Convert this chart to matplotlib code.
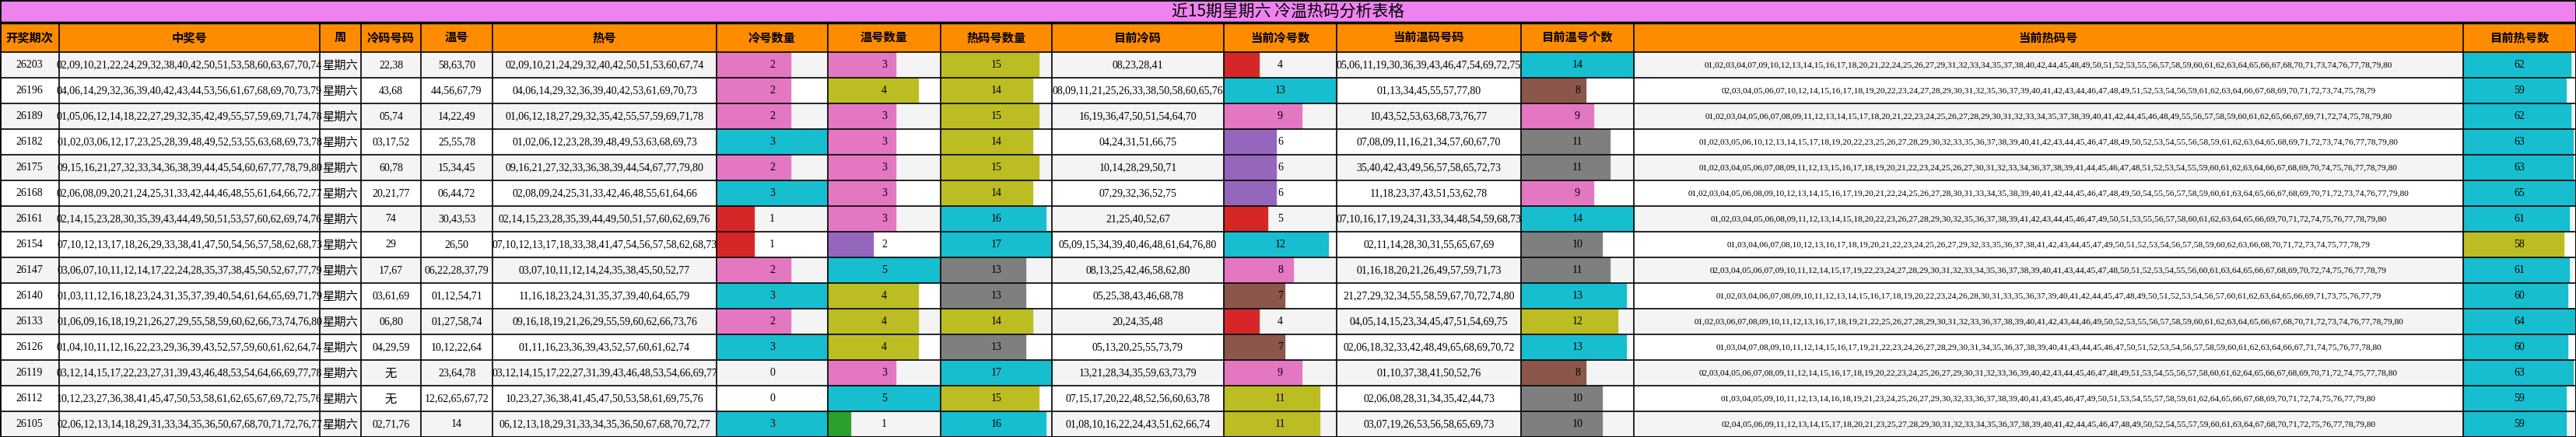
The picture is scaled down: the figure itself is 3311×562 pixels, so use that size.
import matplotlib

matplotlib.use("Agg")
import matplotlib.pyplot as plt
from matplotlib.patches import Rectangle

TITLE = "近15期星期六 冷温热码分析表格"

HEADERS = [
    "开奖期次", "中奖号", "周", "冷码号码", "温号", "热号", "冷号数量", "温号数量",
    "热码号数量", "目前冷码", "当前冷号数", "当前温码号码", "目前温号个数", "当前热码号", "目前热号数",
]

ISSUES = ["26203", "26196", "26189", "26182", "26175", "26168", "26161", "26154",
          "26147", "26140", "26133", "26126", "26119", "26112", "26105"]

WIN_NUMS = [
    "02,09,10,21,22,24,29,32,38,40,42,50,51,53,58,60,63,67,70,74",
    "04,06,14,29,32,36,39,40,42,43,44,53,56,61,67,68,69,70,73,79",
    "01,05,06,12,14,18,22,27,29,32,35,42,49,55,57,59,69,71,74,78",
    "01,02,03,06,12,17,23,25,28,39,48,49,52,53,55,63,68,69,73,78",
    "09,15,16,21,27,32,33,34,36,38,39,44,45,54,60,67,77,78,79,80",
    "02,06,08,09,20,21,24,25,31,33,42,44,46,48,55,61,64,66,72,77",
    "02,14,15,23,28,30,35,39,43,44,49,50,51,53,57,60,62,69,74,76",
    "07,10,12,13,17,18,26,29,33,38,41,47,50,54,56,57,58,62,68,73",
    "03,06,07,10,11,12,14,17,22,24,28,35,37,38,45,50,52,67,77,79",
    "01,03,11,12,16,18,23,24,31,35,37,39,40,54,61,64,65,69,71,79",
    "01,06,09,16,18,19,21,26,27,29,55,58,59,60,62,66,73,74,76,80",
    "01,04,10,11,12,16,22,23,29,36,39,43,52,57,59,60,61,62,64,74",
    "03,12,14,15,17,22,23,27,31,39,43,46,48,53,54,64,66,69,77,78",
    "10,12,23,27,36,38,41,45,47,50,53,58,61,62,65,67,69,72,75,76",
    "02,06,12,13,14,18,29,31,33,34,35,36,50,67,68,70,71,72,76,77",
]

WEEKDAY = ["星期六"] * 15

COLD_NUMS = ["22,38", "43,68", "05,74", "03,17,52", "60,78", "20,21,77", "74", "29",
             "17,67", "03,61,69", "06,80", "04,29,59", "无", "无", "02,71,76"]

WARM_NUMS = ["58,63,70", "44,56,67,79", "14,22,49", "25,55,78", "15,34,45", "06,44,72",
             "30,43,53", "26,50", "06,22,28,37,79", "01,12,54,71", "01,27,58,74",
             "10,12,22,64", "23,64,78", "12,62,65,67,72", "14"]

HOT_NUMS = [
    "02,09,10,21,24,29,32,40,42,50,51,53,60,67,74",
    "04,06,14,29,32,36,39,40,42,53,61,69,70,73",
    "01,06,12,18,27,29,32,35,42,55,57,59,69,71,78",
    "01,02,06,12,23,28,39,48,49,53,63,68,69,73",
    "09,16,21,27,32,33,36,38,39,44,54,67,77,79,80",
    "02,08,09,24,25,31,33,42,46,48,55,61,64,66",
    "02,14,15,23,28,35,39,44,49,50,51,57,60,62,69,76",
    "07,10,12,13,17,18,33,38,41,47,54,56,57,58,62,68,73",
    "03,07,10,11,12,14,24,35,38,45,50,52,77",
    "11,16,18,23,24,31,35,37,39,40,64,65,79",
    "09,16,18,19,21,26,29,55,59,60,62,66,73,76",
    "01,11,16,23,36,39,43,52,57,60,61,62,74",
    "03,12,14,15,17,22,27,31,39,43,46,48,53,54,66,69,77",
    "10,23,27,36,38,41,45,47,50,53,58,61,69,75,76",
    "06,12,13,18,29,31,33,34,35,36,50,67,68,70,72,77",
]

COLD_COUNT = [2, 2, 2, 3, 2, 3, 1, 1, 2, 3, 2, 3, 0, 0, 3]
WARM_COUNT = [3, 4, 3, 3, 3, 3, 3, 2, 5, 4, 4, 4, 3, 5, 1]
HOT_COUNT = [15, 14, 15, 14, 15, 14, 16, 17, 13, 13, 14, 13, 17, 15, 16]

CUR_COLD = [
    "08,23,28,41", "08,09,11,21,25,26,33,38,50,58,60,65,76", "16,19,36,47,50,51,54,64,70",
    "04,24,31,51,66,75", "10,14,28,29,50,71", "07,29,32,36,52,75", "21,25,40,52,67",
    "05,09,15,34,39,40,46,48,61,64,76,80", "08,13,25,42,46,58,62,80", "05,25,38,43,46,68,78",
    "20,24,35,48", "05,13,20,25,55,73,79", "13,21,28,34,35,59,63,73,79",
    "07,15,17,20,22,48,52,56,60,63,78", "01,08,10,16,22,24,43,51,62,66,74",
]
CUR_COLD_COUNT = [4, 13, 9, 6, 6, 6, 5, 12, 8, 7, 4, 7, 9, 11, 11]

CUR_WARM = [
    "05,06,11,19,30,36,39,43,46,47,54,69,72,75", "01,13,34,45,55,57,77,80",
    "10,43,52,53,63,68,73,76,77", "07,08,09,11,16,21,34,57,60,67,70",
    "35,40,42,43,49,56,57,58,65,72,73", "11,18,23,37,43,51,53,62,78",
    "07,10,16,17,19,24,31,33,34,48,54,59,68,73", "02,11,14,28,30,31,55,65,67,69",
    "01,16,18,20,21,26,49,57,59,71,73", "21,27,29,32,34,55,58,59,67,70,72,74,80",
    "04,05,14,15,23,34,45,47,51,54,69,75", "02,06,18,32,33,42,48,49,65,68,69,70,72",
    "01,10,37,38,41,50,52,76", "02,06,08,28,31,34,35,42,44,73", "03,07,19,26,53,56,58,65,69,73",
]
CUR_WARM_COUNT = [14, 8, 9, 11, 11, 9, 14, 10, 11, 13, 12, 13, 8, 10, 10]

CUR_HOT = [
    "01,02,03,04,07,09,10,12,13,14,15,16,17,18,20,21,22,24,25,26,27,29,31,32,33,34,35,37,38,40,42,44,45,48,49,50,51,52,53,55,56,57,58,59,60,61,62,63,64,65,66,67,68,70,71,73,74,76,77,78,79,80",
    "02,03,04,05,06,07,10,12,14,15,16,17,18,19,20,22,23,24,27,28,29,30,31,32,35,36,37,39,40,41,42,43,44,46,47,48,49,51,52,53,54,56,59,61,62,63,64,66,67,68,69,70,71,72,73,74,75,78,79",
    "01,02,03,04,05,06,07,08,09,11,12,13,14,15,17,18,20,21,22,23,24,25,26,27,28,29,30,31,32,33,34,35,37,38,39,40,41,42,44,45,46,48,49,55,56,57,58,59,60,61,62,65,66,67,69,71,72,74,75,78,79,80",
    "01,02,03,05,06,10,12,13,14,15,17,18,19,20,22,23,25,26,27,28,29,30,32,33,35,36,37,38,39,40,41,42,43,44,45,46,47,48,49,50,52,53,54,55,56,58,59,61,62,63,64,65,68,69,71,72,73,74,76,77,78,79,80",
    "01,02,03,04,05,06,07,08,09,11,12,13,15,16,17,18,19,20,21,22,23,24,25,26,27,30,31,32,33,34,36,37,38,39,41,44,45,46,47,48,51,52,53,54,55,59,60,61,62,63,64,66,67,68,69,70,74,75,76,77,78,79,80",
    "01,02,03,04,05,06,08,09,10,12,13,14,15,16,17,19,20,21,22,24,25,26,27,28,30,31,33,34,35,38,39,40,41,42,44,45,46,47,48,49,50,54,55,56,57,58,59,60,61,63,64,65,66,67,68,69,70,71,72,73,74,76,77,79,80",
    "01,02,03,04,05,06,08,09,11,12,13,14,15,18,20,22,23,26,27,28,29,30,32,35,36,37,38,39,41,42,43,44,45,46,47,49,50,51,53,55,56,57,58,60,61,62,63,64,65,66,69,70,71,72,74,75,76,77,78,79,80",
    "01,03,04,06,07,08,10,12,13,16,17,18,19,20,21,22,23,24,25,26,27,29,32,33,35,36,37,38,41,42,43,44,45,47,49,50,51,52,53,54,56,57,58,59,60,62,63,66,68,70,71,72,73,74,75,77,78,79",
    "02,03,04,05,06,07,09,10,11,12,14,15,17,19,22,23,24,27,28,29,30,31,32,33,34,35,36,37,38,39,40,41,43,44,45,47,48,50,51,52,53,54,55,56,60,61,63,64,65,66,67,68,69,70,72,74,75,76,77,78,79",
    "01,02,03,04,06,07,08,09,10,11,12,13,14,15,16,17,18,19,20,22,23,24,26,28,30,31,33,35,36,37,39,40,41,42,44,45,47,48,49,50,51,52,53,54,56,57,60,61,62,63,64,65,66,69,71,73,75,76,77,79",
    "01,02,03,06,07,08,09,10,11,12,13,16,17,18,19,21,22,25,26,27,28,29,30,31,32,33,36,37,38,39,40,41,42,43,44,46,49,50,52,53,55,56,57,58,59,60,61,62,63,64,65,66,67,68,70,71,72,73,74,76,77,78,79,80",
    "01,03,04,07,08,09,10,11,12,14,15,16,17,19,21,22,23,24,26,27,28,29,30,31,34,35,36,37,38,39,40,41,43,44,45,46,47,50,51,52,53,54,56,57,58,59,60,61,62,63,64,66,67,71,74,75,76,77,78,80",
    "02,03,04,05,06,07,08,09,11,12,14,15,16,17,18,19,20,22,23,24,25,26,27,29,30,31,32,33,36,39,40,42,43,44,45,46,47,48,49,51,53,54,55,56,57,58,60,61,62,64,65,66,67,68,69,70,71,72,74,75,77,78,80",
    "01,03,04,05,09,10,11,12,13,14,16,18,19,21,23,24,25,26,27,29,30,32,33,36,37,38,39,40,41,43,45,46,47,49,50,51,53,54,55,57,58,59,61,62,64,65,66,67,68,69,70,71,72,74,75,76,77,79,80",
    "02,04,05,06,09,11,12,13,14,15,17,18,20,21,23,25,27,28,29,30,31,32,33,34,35,36,37,38,39,40,41,42,44,45,46,47,48,49,50,52,54,55,57,59,60,61,63,64,67,68,70,71,72,75,76,77,78,79,80",
]
CUR_HOT_COUNT = [62, 59, 62, 63, 63, 65, 61, 58, 61, 60, 64, 60, 63, 59, 59]

# layout (pixels)
W, H = 3311, 562
COL_EDGES = [0, 76, 411, 464, 541, 633, 921, 1064, 1209, 1352, 1573, 1718, 1955, 2100, 3166, 3311]
TITLE_H = 29
HEAD_H = 38
ROW_H = (H - TITLE_H - HEAD_H) / len(ISSUES)

FONT_NUM = ["Liberation Serif", "Noto Sans CJK SC"]
FONT_CJK = ["Noto Sans CJK SC", "DejaVu Sans"]

plt.rcParams["font.family"] = FONT_NUM

fig = plt.figure(figsize=(W / 100, H / 100), dpi=100)
ax = fig.add_axes([0, 0, 1, 1])
ax.set_xlim(0, W)
ax.set_ylim(H, 0)
ax.axis("off")
cmap = plt.get_cmap("tab10")

# title
ax.add_patch(Rectangle((0, 0), W, TITLE_H, color="#EE82EE"))
ax.text(W / 2, TITLE_H / 2 + 1, TITLE, ha="center", va="center", fontsize=15,
        family=["Liberation Sans Narrow", "Noto Sans CJK SC"])

# header
ax.add_patch(Rectangle((0, TITLE_H), W, HEAD_H, color="#FF8C00"))
for i, name in enumerate(HEADERS):
    cx = (COL_EDGES[i] + COL_EDGES[i + 1]) / 2
    ax.text(cx, TITLE_H + HEAD_H / 2, name, ha="center", va="center",
            fontsize=11, weight="bold", family=FONT_CJK)

text_cols = [ISSUES, WIN_NUMS, WEEKDAY, COLD_NUMS, WARM_NUMS, HOT_NUMS, None, None, None,
             CUR_COLD, None, CUR_WARM, None, CUR_HOT, None]
bar_cols = {6: COLD_COUNT, 7: WARM_COUNT, 8: HOT_COUNT, 10: CUR_COLD_COUNT,
            12: CUR_WARM_COUNT, 14: CUR_HOT_COUNT}

for r in range(len(ISSUES)):
    y0 = TITLE_H + HEAD_H + r * ROW_H
    yc = y0 + ROW_H / 2
    ax.add_patch(Rectangle((0, y0), W, ROW_H, color="#F4F4F4" if r % 2 == 0 else "white"))
    for c in range(len(HEADERS)):
        x0, x1 = COL_EDGES[c], COL_EDGES[c + 1]
        cx = (x0 + x1) / 2
        if c in bar_cols:
            vals = bar_cols[c]
            v = vals[r]
            frac = v / max(vals)
            if v > 0:
                ax.add_patch(Rectangle((x0, y0), (x1 - x0) * frac, ROW_H,
                                       color=cmap(min(int(frac * 10), 9))))
            ax.text(cx, yc, str(v), ha="center", va="center", fontsize=10)
        else:
            s = text_cols[c][r]
            if c == 2 or s == "无":
                ax.text(cx, yc + 1, s, ha="center", va="center", fontsize=11, family=FONT_CJK)
            else:
                fs = 8.2 if c == 13 else 10
                ax.text(cx, yc, s, ha="center", va="center", fontsize=fs)

# grid lines
for x in COL_EDGES:
    ax.plot([x, x], [TITLE_H, H], color="black", lw=1.2)
y = TITLE_H + HEAD_H
for r in range(len(ISSUES) + 1):
    ax.plot([0, W], [y + r * ROW_H] * 2, color="black", lw=1.2)
ax.plot([0, W], [TITLE_H, TITLE_H], color="black", lw=2.5)
ax.plot([0, W], [0.5, 0.5], color="black", lw=1.5)
ax.plot([0, 0], [0, H], color="black", lw=2)
ax.plot([W, W], [0, H], color="black", lw=2)
ax.plot([0, W], [H - 0.5, H - 0.5], color="black", lw=1.5)

fig.savefig("out.png", dpi=100)
